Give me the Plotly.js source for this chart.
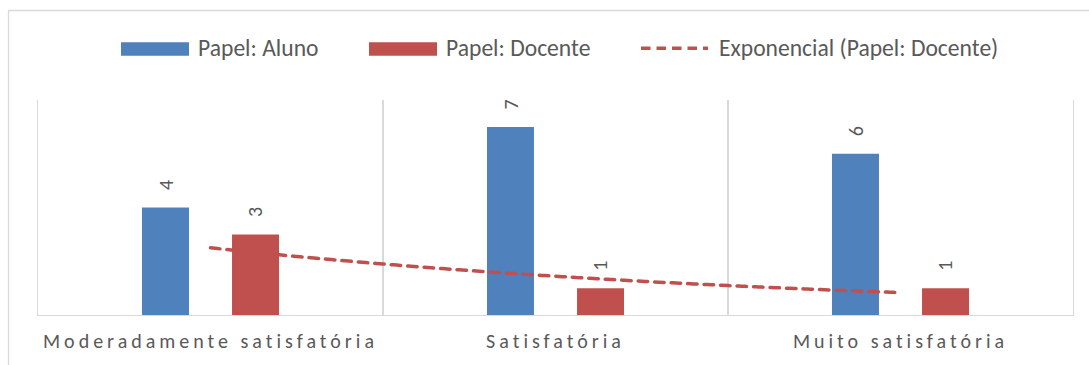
<!DOCTYPE html>
<html>
<head>
<meta charset="utf-8">
<script src="https://cdn.plot.ly/plotly-3.0.1.min.js"></script>
<style>
  html, body { margin: 0; padding: 0; background: #fff; }
  #chart { width: 1089px; height: 365px; }
  .xtick text { letter-spacing: 4px; }
  .scatterlayer .js-line { stroke-linecap: round; }
</style>
</head>
<body>
<div id="chart"></div>
<script>
// Categorias e valores por papel
const categorias = ['Moderadamente satisfatória', 'Satisfatória', 'Muito satisfatória'];
const aluno = [4, 7, 6];
const docente = [3, 1, 1];
const nomeAluno = 'Papel: Aluno';
const nomeDocente = 'Papel: Docente';
const nomeTendencia = 'Exponencial (Papel: Docente)';

const AZUL = '#4F81BD';
const VERMELHO = '#C0504D';
const CINZA_TEXTO = '#595959';
const CINZA_LINHA = '#D9D9D9';
const FONTE = 'Carlito, Calibri, Lato, "Open Sans", sans-serif';

// Área de plotagem em pixels
const W = 1089, H = 365;
const M = { l: 38, r: 16, t: 100, b: 50 };
const PW = W - M.l - M.r, PH = H - M.t - M.b;
const px = x => (x - M.l) / PW;          // pixel -> paper (x)
const py = y => (H - M.b - y) / PH;      // pixel -> paper (y)

// Linha de tendência exponencial (mínimos quadrados sobre ln y)
const xs = docente.map((_, i) => i + 1);
const lny = docente.map(v => Math.log(v));
const mx = xs.reduce((a, b) => a + b, 0) / xs.length;
const my = lny.reduce((a, b) => a + b, 0) / lny.length;
let sxy = 0, sxx = 0;
xs.forEach((x, i) => { sxy += (x - mx) * (lny[i] - my); sxx += (x - mx) * (x - mx); });
const b = sxy / sxx, a = my - b * mx;
const tx = [], ty = [];
for (let k = 0; k <= 100; k++) {
  const t = (docente.length - 1) * k / 100;
  tx.push(t);
  ty.push(Math.exp(a + b * (t + 1)));
}

const traces = [
  { type: 'bar', name: nomeAluno, x: categorias, y: aluno,
    marker: { color: AZUL, line: { width: 0 } }, hoverinfo: 'skip' },
  { type: 'bar', name: nomeDocente, x: categorias, y: docente,
    marker: { color: VERMELHO, line: { width: 0 } }, hoverinfo: 'skip' },
  { type: 'scatter', mode: 'lines', name: nomeTendencia, x: tx, y: ty, xaxis: 'x2',
    line: { color: VERMELHO, width: 3.5, dash: '9.5px,7px', shape: 'spline' }, hoverinfo: 'skip' }
];

// Rótulos de dados verticais acima das barras
const OFF = 45;
const annotations = [];
[[aluno, -OFF], [docente, OFF]].forEach(([serie, dx]) => {
  serie.forEach((v, i) => {
    annotations.push({
      x: categorias[i], y: v, xref: 'x', yref: 'y',
      text: String(v), showarrow: false, textangle: -90,
      xshift: dx, yshift: 22, xanchor: 'center', yanchor: 'middle',
      font: { family: FONTE, size: 20, color: CINZA_TEXTO }
    });
  });
});

// Legenda
const legenda = [
  { tipo: 'rect', cor: AZUL, x0: 121, x1: 189, texto: nomeAluno, tx: 196 },
  { tipo: 'rect', cor: VERMELHO, x0: 369, x1: 437, texto: nomeDocente, tx: 444 },
  { tipo: 'line', cor: VERMELHO, x0: 639, x1: 710, texto: nomeTendencia, tx: 717 }
];
const shapes = [
  { type: 'rect', xref: 'paper', yref: 'paper', layer: 'below',
    x0: px(8.5), x1: px(1120), y0: py(420), y1: py(10.5),
    line: { color: CINZA_LINHA, width: 1.3 }, fillcolor: 'rgba(0,0,0,0)' }
];
legenda.forEach(item => {
  if (item.tipo === 'rect') {
    shapes.push({ type: 'rect', xref: 'paper', yref: 'paper',
      x0: px(item.x0), x1: px(item.x1), y0: py(55.7), y1: py(42.3),
      fillcolor: item.cor, line: { width: 0 } });
  } else {
    shapes.push({ type: 'line', xref: 'paper', yref: 'paper',
      x0: px(item.x0 + 2), x1: px(item.x1 - 2), y0: py(48.3), y1: py(48.3),
      line: { color: item.cor, width: 3.5, dash: '9.5px,6px' } });
  }
  annotations.push({ xref: 'paper', yref: 'paper', x: px(item.tx), y: py(48),
    xanchor: 'left', yanchor: 'middle', showarrow: false, text: item.texto,
    font: { family: FONTE, size: 23.6, color: CINZA_TEXTO } });
});

const layout = {
  width: W, height: H, margin: M,
  paper_bgcolor: '#ffffff', plot_bgcolor: '#ffffff',
  showlegend: false,
  barmode: 'group', bargap: 0.478, bargroupgap: 0.478,
  font: { family: FONTE, color: CINZA_TEXTO },
  xaxis: {
    type: 'category', range: [-0.5, 2.5], tickson: 'boundaries',
    showgrid: true, gridcolor: CINZA_LINHA, gridwidth: 1.3,
    showline: true, linecolor: CINZA_LINHA, linewidth: 1.3,
    ticks: '', ticklen: 0, ticklabelstandoff: 8,
    tickfont: { family: FONTE, size: 20, color: CINZA_TEXTO }, fixedrange: true
  },
  xaxis2: { overlaying: 'x', type: 'linear', range: [-0.5, 2.5], visible: false, fixedrange: true },
  yaxis: {
    range: [0, 8], showgrid: false, zeroline: false, showticklabels: false,
    showline: true, mirror: true, linecolor: CINZA_LINHA, linewidth: 1.3, ticks: '', fixedrange: true
  },
  shapes: shapes,
  annotations: annotations
};

Plotly.newPlot('chart', traces, layout, { displayModeBar: false, staticPlot: true });
</script>
</body>
</html>
